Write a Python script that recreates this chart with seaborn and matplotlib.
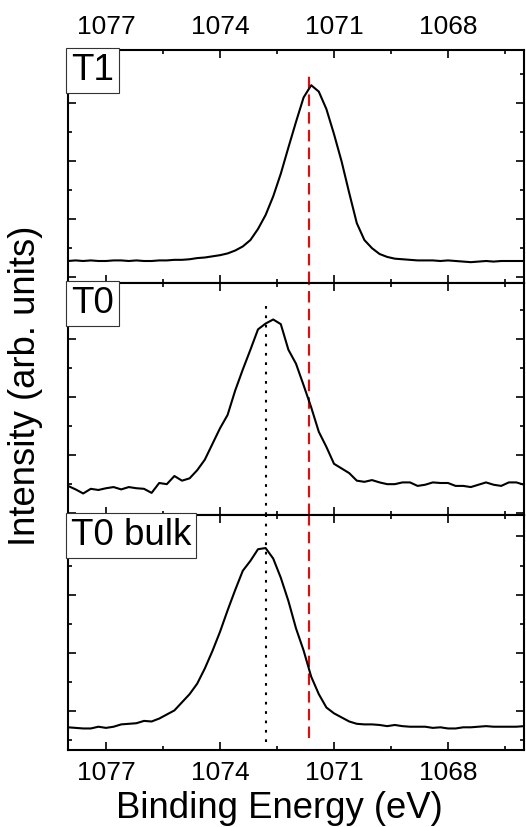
import numpy as np
import pandas as pd
import seaborn as sns
import matplotlib.pyplot as plt
import matplotlib.ticker as ticker

# binding energy grid, 0.2 eV steps from 1078 down to 1066 eV
energy = np.linspace(1078.0, 1066.0, 61)

# intensities (arb. units)
t1 = [0.28, 0.29, 0.28, 0.29, 0.28, 0.28, 0.29, 0.29, 0.28, 0.29,
      0.28, 0.28, 0.29, 0.29, 0.30, 0.30, 0.31, 0.33, 0.34, 0.36,
      0.38, 0.41, 0.46, 0.53, 0.64, 0.83, 1.07, 1.39, 1.78, 2.23,
      2.67, 3.09, 3.30, 3.19, 2.89, 2.46, 1.99, 1.45, 0.93, 0.64,
      0.50, 0.40, 0.35, 0.32, 0.31, 0.30, 0.29, 0.29, 0.29, 0.28,
      0.29, 0.28, 0.27, 0.26, 0.27, 0.28, 0.27, 0.28, 0.28, 0.28,
      0.28]
t0 = [0.47, 0.41, 0.34, 0.42, 0.40, 0.43, 0.45, 0.41, 0.45, 0.43,
      0.42, 0.35, 0.52, 0.50, 0.64, 0.56, 0.60, 0.74, 0.92, 1.19,
      1.46, 1.69, 2.11, 2.47, 2.81, 3.16, 3.26, 3.33, 3.25, 2.81,
      2.57, 2.20, 1.82, 1.40, 1.14, 0.85, 0.77, 0.69, 0.56, 0.54,
      0.57, 0.53, 0.50, 0.50, 0.53, 0.53, 0.47, 0.49, 0.53, 0.52,
      0.52, 0.47, 0.47, 0.45, 0.49, 0.53, 0.49, 0.47, 0.53, 0.53,
      0.49]
t0_bulk = [0.72, 0.71, 0.70, 0.70, 0.73, 0.71, 0.73, 0.77, 0.78, 0.79,
           0.83, 0.82, 0.87, 0.94, 1.01, 1.15, 1.29, 1.47, 1.73, 2.03,
           2.36, 2.73, 3.08, 3.41, 3.58, 3.78, 3.80, 3.62, 3.29, 2.89,
           2.42, 2.04, 1.59, 1.29, 1.06, 0.96, 0.89, 0.82, 0.78, 0.77,
           0.77, 0.76, 0.74, 0.76, 0.74, 0.73, 0.73, 0.73, 0.71, 0.72,
           0.70, 0.70, 0.72, 0.72, 0.73, 0.74, 0.73, 0.73, 0.73, 0.73,
           0.74]

panel_labels = ["T1", "T0", "T0 bulk"]
peak_t1 = 1071.65   # red dashed reference
peak_t0 = 1072.8    # black dotted reference

x_major = [1077, 1074, 1071, 1068]

# layout (not data)
YLIMS = [(-0.098, 3.905), (-0.03, 3.957), (0.33, 4.368)]
RED_SPAN = [(0.0, 0.904), (0.0, 1.0), (0.05, 1.0)]
DOT_SPAN = [None, (0.0, 0.919), (0.035, 1.0)]

sns.set_theme(style="ticks", rc={"text.color": "black", "axes.labelcolor": "black",
                                 "xtick.color": "black", "ytick.color": "black"})
plt.rcParams["font.family"] = ["Liberation Sans", "DejaVu Sans"]
plt.rcParams["axes.linewidth"] = 1.5

W, H = 526, 827
fig = plt.figure(figsize=(W / 100, H / 100), dpi=100)
gs = fig.add_gridspec(3, 1, height_ratios=[233, 232, 235], hspace=0,
                      left=68 / W, right=524 / W, top=1 - 50 / H, bottom=1 - 750 / H)
axes = [fig.add_subplot(gs[i]) for i in range(3)]

for i, (ax, y, lab) in enumerate(zip(axes, [t1, t0, t0_bulk], panel_labels)):
    df = pd.DataFrame({"energy": energy, "intensity": y})
    sns.lineplot(data=df, x="energy", y="intensity", ax=ax, color="black",
                 lw=1.5, sort=False, zorder=3)
    ax.set_xlim(1078, 1066)
    ax.set_ylim(*YLIMS[i])
    ax.set_xlabel("")
    ax.set_ylabel("")
    ax.xaxis.set_major_locator(ticker.FixedLocator(x_major))
    ax.xaxis.set_minor_locator(ticker.MultipleLocator(1.5))
    ax.yaxis.set_major_locator(ticker.MultipleLocator(1))
    ax.yaxis.set_minor_locator(ticker.MultipleLocator(0.5))
    ax.tick_params(which="both", direction="in", top=True, right=True,
                   left=True, bottom=True, labelleft=False, labelbottom=False,
                   width=1.2, colors="black", labelsize=19, pad=8)
    ax.tick_params(which="major", length=5.5)
    ax.tick_params(which="minor", length=3)
    for s in ax.spines.values():
        s.set_color("black")

    r0, r1 = RED_SPAN[i]
    ax.axvline(peak_t1, ymin=r0, ymax=r1, color="#ff0000", lw=1.5,
               dashes=(5.5, 3), zorder=2)
    if DOT_SPAN[i] is not None:
        d0, d1 = DOT_SPAN[i]
        ax.axvline(peak_t0, ymin=d0, ymax=d1, color="black", lw=1.5,
                   dashes=(1.3, 3.2), zorder=2)

    ax.annotate(lab, xy=(0, 1), xycoords="axes fraction", xytext=(2.2, -2.2),
                textcoords="offset points", ha="left", va="top", fontsize=26.5,
                color="black", zorder=5,
                bbox=dict(boxstyle="square,pad=0.13", fc="white", ec="#333333", lw=0.8))

axes[0].tick_params(labeltop=True)
axes[2].tick_params(labelbottom=True)

fig.text(279 / W, 1 - 818 / H, "Binding Energy (eV)", ha="center", va="baseline",
         fontsize=26.3, color="black")
fig.text(26 / W, 1 - 386 / H, "Intensity (arb. units)", ha="center", va="center",
         rotation=90, fontsize=26.3, color="black")

fig.savefig("out.png", dpi=100)
